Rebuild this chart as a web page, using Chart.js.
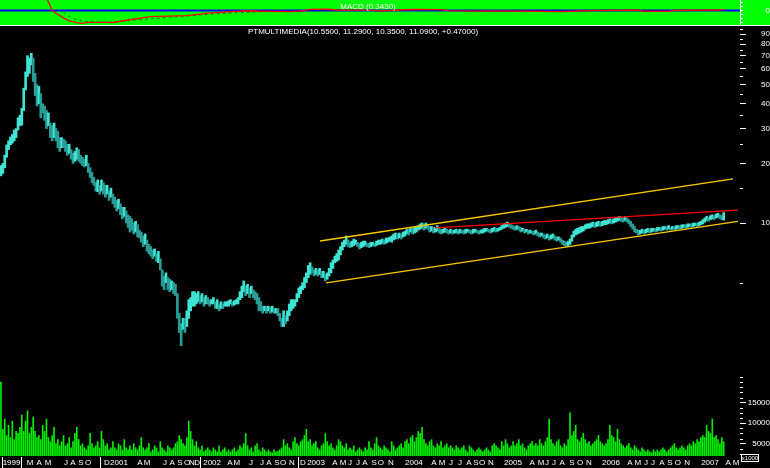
<!DOCTYPE html>
<html lang="en">
<head>
<meta charset="utf-8">
<title>PTMULTIMEDIA</title>
<script src="https://cdn.jsdelivr.net/npm/chart.js@4.4.1/dist/chart.umd.min.js"></script>
<style>
  body { margin: 0; background: #000; width: 770px; height: 468px; overflow: hidden; position: relative; }
  canvas { position: absolute; left: 0; }
  #macdChart { top: 0; background: #00ff00; }
  #sep { position: absolute; left: 0; top: 25px; width: 770px; height: 1px; background: #fff; }
  #priceChart { top: 26px; }
  #volChart { top: 374px; }
</style>
</head>
<body>
<canvas id="macdChart" width="770" height="25"></canvas>
<div id="sep"></div>
<canvas id="priceChart" width="770" height="347"></canvas>
<canvas id="volChart" width="770" height="94"></canvas>
<script>
// week index scale, bar 0 = first week on the chart
const X_MIN = -0.5, X_MAX = 389.6;
const AXIS_W = 30;
const FONT = '"Liberation Sans", Arial, sans-serif';

const lastQuote = ['10.5500', '11.2900', '10.3500', '11.0900', '+0.47000'];
const macdTitle = 'MACD (0.3430)';

// weekly highs / lows
const highs = [
  19.5,20,22,24.8,26,27.2,28,29.5,30,34,
  35,38,48,58,70,68,72,68,57,50,
  49,45,40,39,37,36,32,31,32,30,
  29,27,27,26.5,26,25,25,23.5,22.5,23,
  24,23.5,22,21.5,21,22,20,19,18,17,
  16,16.5,15.5,16.5,16,15.5,15.5,14.5,15,14,
  13.5,13,13.2,12.5,12,12,11.5,11,10.8,10.5,
  10,10.2,9.8,9.2,9,8.6,8.8,8.2,7.8,7.6,
  7.3,7.4,7,7.2,6.6,5.8,5.4,5.6,5.3,5.2,
  5.1,5,4.9,4.4,3.5,3.1,3.3,3.3,3.6,4.1,
  4.2,4.5,4.5,4.4,4.5,4.3,4.4,4.2,4.3,4.2,
  4.1,4.1,4.2,4,4.1,3.9,4,3.9,4,4,
  4.05,4.1,4,4.05,4.1,4.2,4.5,4.8,5.1,4.8,
  4.9,4.7,4.8,4.6,4.5,4.4,4.2,4,3.8,3.8,
  3.8,3.8,3.75,3.8,3.7,3.7,3.7,3.5,3.3,3.6,
  3.4,3.6,3.9,4.1,4.1,4.1,4.4,4.7,4.8,5,
  5.3,5.6,6.1,6.3,6,5.8,5.9,5.8,5.9,5.7,
  5.7,5.5,5.6,5.9,6.3,6.5,6.8,7,7.3,7.6,
  8,8.2,8.6,8.2,8,8.1,8.3,8.2,8,7.9,
  8,8.1,8.1,7.9,7.9,8,8,7.9,8.1,8.2,
  8.2,8.3,8.2,8.4,8.4,8.5,8.6,8.8,8.9,8.8,
  8.9,8.8,9,9.1,9.3,9.3,9.5,9.4,9.5,9.6,
  9.7,9.9,10,9.8,10,9.8,9.6,9.6,9.5,9.5,
  9.7,9.4,9.3,9.3,9.4,9.3,9.2,9.3,9.2,9.2,
  9.3,9.2,9.3,9.2,9.2,9.3,9.3,9.2,9.2,9.3,
  9.3,9.2,9.1,9.2,9.3,9.4,9.4,9.3,9.3,9.4,
  9.5,9.4,9.4,9.5,9.7,9.9,10,10.1,9.9,9.8,
  9.7,9.6,9.7,9.6,9.5,9.4,9.3,9.3,9.2,9.2,
  9.1,9.1,9.2,9,8.9,8.9,8.8,8.7,8.8,8.6,
  8.7,8.8,8.6,8.5,8.5,8.4,8.2,8.1,8,8.1,
  8.3,8.7,9.1,9.3,9.4,9.5,9.6,9.6,9.8,9.9,
  9.9,10,10.1,10,10.1,10.2,10.1,10.2,10.3,10.3,
  10.4,10.5,10.4,10.5,10.6,10.7,10.8,10.7,10.6,10.8,
  10.6,10.4,10.2,9.9,9.6,9.3,9.2,9.2,9.3,9.2,
  9.3,9.4,9.3,9.4,9.4,9.4,9.5,9.5,9.5,9.6,
  9.6,9.6,9.7,9.5,9.6,9.6,9.7,9.7,9.7,9.8,
  9.8,9.8,9.9,9.9,9.9,10,10,10,10.1,10.2,
  10.4,10.6,10.8,10.7,10.9,11,10.9,11.1,11.2,11,
  10.9,11.29
];
const lows = [
  17.3,17.8,19,21.5,23.5,24.8,25.3,26,27,29.5,
  31,31.2,37,47,55,57,63,52,44,39,
  40,34,36,33,30,31,27,26,27,26,
  24,23,24,24,23,22,22.5,21,20,20.5,
  21,20.5,20,19.5,19.2,19.5,18,17,16,15.5,
  14.5,14.4,14,14.5,14,13.5,14,13,13.5,12.5,
  12,11.5,11.8,11,10.5,10.8,10,9.5,9,9.2,
  8.8,9,8.5,8.4,8,7.6,7.8,7.2,7,6.8,
  6.6,6.8,6.4,6.3,5.8,4.8,4.6,5,4.6,4.5,
  4.6,4.4,4.3,3.3,2.8,2.4,2.9,2.8,3,3.3,
  3.6,3.8,3.8,3.9,4,3.9,4,3.8,3.9,3.9,
  3.8,3.9,3.9,3.7,3.7,3.6,3.7,3.7,3.8,3.8,
  3.8,3.9,3.8,3.85,3.9,3.9,4.1,4.2,4.5,4.3,
  4.4,4.2,4.4,4.2,4.1,3.9,3.6,3.6,3.5,3.6,
  3.5,3.6,3.5,3.55,3.5,3.5,3.4,3.2,3,3,
  3.1,3.2,3.4,3.6,3.7,3.8,4,4.2,4.4,4.6,
  4.7,5,5.3,5.5,5.6,5.4,5.5,5.4,5.5,5.3,
  5.3,5.1,5.2,5.4,5.6,5.9,6.3,6.4,6.5,6.9,
  7.3,7.6,7.8,7.6,7.5,7.6,7.7,7.8,7.6,7.4,
  7.5,7.6,7.7,7.6,7.5,7.6,7.7,7.6,7.7,7.8,
  7.8,7.9,7.8,7.9,8,8.1,8,8.2,8.3,8.3,
  8.4,8.3,8.5,8.6,8.8,8.7,9,8.8,8.9,9,
  9.2,9.3,9.4,9.2,9.4,9.3,9,9.1,8.9,9,
  9.1,8.9,8.8,8.9,9,8.9,8.8,8.9,8.8,8.9,
  8.9,8.8,8.9,8.9,8.8,8.9,9,8.9,8.8,8.9,
  9,8.9,8.8,8.9,8.9,9,9.1,9,8.9,9,
  9.1,9,9.1,9.2,9.3,9.4,9.5,9.6,9.5,9.4,
  9.3,9.2,9.3,9.2,9,9.1,8.9,9,8.8,8.9,
  8.8,8.7,8.8,8.6,8.5,8.6,8.4,8.3,8.4,8.2,
  8.3,8.4,8.2,8.1,8.2,8,7.8,7.7,7.6,7.7,
  7.8,8.1,8.5,8.7,8.8,8.9,9,9.1,9.3,9.4,
  9.4,9.5,9.6,9.5,9.6,9.7,9.6,9.7,9.8,9.8,
  9.9,10,9.9,10,10.1,10.2,10.3,10.2,10.1,10.3,
  10.1,9.9,9.6,9.3,9,8.9,8.7,8.8,8.9,8.8,
  8.9,9,8.9,9,9.1,9,9.1,9.2,9.1,9.2,
  9.3,9.2,9.3,9.2,9.3,9.2,9.3,9.4,9.3,9.4,
  9.5,9.4,9.5,9.6,9.5,9.6,9.7,9.6,9.7,9.8,
  9.9,10.1,10.3,10.2,10.4,10.5,10.4,10.6,10.7,10.5,
  10.4,10.35
];
const volumes = [
  20000,8500,11000,7000,9500,6500,10500,6000,8000,7500,
  9000,12000,8000,10500,13000,7500,9000,11500,8000,6500,
  7000,6000,9500,8000,11000,6500,5500,7000,9000,5000,
  6000,4500,5500,7000,4500,5000,6500,4000,5500,7500,
  9000,6000,4500,5000,4000,3500,4500,7500,5000,4000,
  4500,5500,4000,8000,6000,4500,5000,3500,4000,5500,
  4000,3500,5000,4500,3500,6000,4000,3500,4500,3500,
  5000,4000,3500,4500,6500,4000,3500,4000,5000,3000,
  3500,4500,4000,3000,5500,4000,3500,3000,4500,4000,
  3500,4000,5000,5500,7000,6000,5000,4500,6500,10500,
  8000,6000,4500,5500,4000,3500,4500,3000,3500,4000,
  3500,3000,4000,3500,3000,4500,3000,3500,4000,3000,
  3500,3000,3500,4000,3000,3500,4500,4000,5000,7500,
  4500,3500,4000,3000,4500,5000,3500,3000,4000,3500,
  3000,3500,3000,2800,3500,3000,3200,3500,4000,6000,
  4500,5000,4000,3500,5500,6500,5000,4500,5500,6000,
  7000,8500,5500,6000,4500,5000,5500,4000,3500,4500,
  5000,7500,5500,4500,5000,4000,3500,4500,6000,5500,
  4500,4000,5000,3500,4000,3500,4500,3000,3500,4000,
  3500,3000,4000,3500,5500,4000,3500,5000,6500,4500,
  4000,3500,4500,4000,3500,3000,5500,4500,3500,4000,
  4500,5000,4000,5500,6000,5000,6500,7000,5500,6500,
  8000,7500,9000,6000,5000,4500,5500,6000,4500,4000,
  5000,4500,5500,4000,4500,5000,4000,4500,4000,3500,
  4500,4000,3500,4000,4500,3500,3000,4500,4000,3500,
  3000,3500,4000,3500,3000,3500,4000,3500,3000,4500,
  5000,4500,4000,3500,5500,4500,6000,5000,4000,4500,
  5500,4500,5000,6000,4500,5000,4000,3500,4500,5000,
  5500,4500,5000,4500,6000,5000,4500,5500,6500,11000,
  6000,5000,4500,5500,6000,4500,4000,5000,4500,6000,
  12500,7000,8000,9500,6000,5500,6500,7500,6000,5000,
  5500,4500,5000,5500,6000,7000,5500,5000,4500,5000,
  6000,9500,7000,6500,5500,8500,6000,5000,4500,4000,
  4500,5000,4000,3500,4500,4000,3500,3000,4000,3500,
  3000,3500,3000,2800,3500,3000,3500,3000,3500,4000,
  3500,3000,3500,4000,4500,5000,4000,3500,4000,4500,
  4000,3500,4500,5000,4500,5500,5000,6000,5500,6500,
  7000,6500,9500,8000,7500,11000,6500,7000,6000,5000,
  6500,5500
];

// MACD panel (line and dotted signal), by week
const macdWeeks  = [24,25,27,28,33,36,40,42,46,55,59,67,79,88,98,108,121,131,137,152,158,163,173,176,193,200,217,233,236,270,284,296,310,336,339,352,355,378,381];
const macdValues = [6,4.2,0,-0.8,-3.6,-5.0,-5.9,-6.2,-5.7,-5.7,-5.8,-4.6,-3.0,-2.7,-2.5,-1.4,-0.6,-0.15,-0.4,-0.6,-0.3,0.5,0.55,0.2,0.1,-0.2,0.45,0.4,-0.2,-0.3,-0.5,-0.6,-0.1,0.1,-0.5,-0.5,0,0.2,0.34];
const signalWeeks  = [33,34,37,40,43,50,60,75,95,115,140,200,381];
const signalValues = [-1.1,-1.7,-3.3,-4.6,-5.1,-5.6,-5.6,-4.3,-2.9,-1.5,-0.5,0,0.25];
const zeroWeeks  = [X_MIN, X_MAX];
const zeroValues = [0, 0];

// trend channel drawn on the price panel
const upperLineWeeks = [168.2, 385.9], upperLineValues = [8.11, 16.7];
const lowerLineWeeks = [171.4, 388.5], lowerLineValues = [4.98, 10.2];
const redLineWeeks   = [228.8, 388.5], redLineValues   = [9.44, 11.63];

// axis ticks
const priceTicks = [10, 20, 30, 40, 50, 60, 70, 80, 90];
const priceMinorTicks = [5, 15, 25, 35, 45, 55, 65, 75, 85, 95];
const volTicks = [5000, 10000, 15000];
const volMinorTicks = [2500, 3750, 6250, 7500, 8750, 11250, 12500, 13750, 16250, 17500, 18750, 20000, 21250];
const macdTicks = [-6, -4, -2, 0, 2, 4];

const dateLabels = ['1999','M','A','M','J','A','S','O','D','2001',
  'A','M','J','A','S','O','N','D','2002',
  'A','M','J','J','A','S','O','N','D','2003',
  'A','M','J','J','A','S','O','N','2004',
  'A','M','J','J','A','S','O','N','2005',
  'A','M','J','J','A','S','O','N','2006',
  'A','M','J','J','A','S','O','N','2007',
  'A','M'];
const dateWeeks = [5.6,15.3,20.1,24.8,34.3,38,42.2,45.9,55.9,62.2,
  73.3,77,86.5,90.2,94.4,98.1,100.7,103.4,111.3,
  120.7,124.4,131.8,137.6,141.3,145.5,148.7,153.4,159.2,166.1,
  176.1,180.3,184,188.2,191.9,196.7,200.3,205.6,217.7,
  228.3,232.5,237.2,242,246.7,250.4,253.6,258.3,269.9,
  280,284.7,287.8,291.5,295.8,301,305.3,310,321.6,
  331.6,335.8,340,343.7,348.5,352.7,356.9,361.7,373.8,
  383.3,387.5];
const dateSeparators = [0.6, 10.6, 52.3, 104.9, 156.6];

const UP = '#40e4d4', DOWN = '#2a9c96';

Chart.defaults.font.family = FONT;

function points(xs, ys) {
  return xs.map((x, i) => ({ x: x, y: ys[i] }));
}

// stop chart.js from shrinking the plot to make room for label overhang
function noPad(scale) {
  scale.paddingTop = 0; scale.paddingBottom = 0;
  scale.paddingLeft = 0; scale.paddingRight = 0;
}

function xAxisHidden() {
  return { type: 'linear', min: X_MIN, max: X_MAX, offset: false, display: false };
}

function rightAxis(tickValues, extra) {
  return Object.assign({
    position: 'right',
    afterFit(scale) { scale.width = AXIS_W; noPad(scale); },
    afterBuildTicks(scale) { scale.ticks = tickValues.map(v => ({ value: v })); },
    border: { display: false },
    grid: { drawOnChartArea: false, color: '#fff', tickColor: '#fff', tickLength: 6 },
    ticks: { color: '#fff', font: { size: 8 }, padding: 2, crossAlign: 'far', autoSkip: false,
      callback: v => String(v) }
  }, extra);
}

function drawMinorTicks(chart, values, len) {
  const s = chart.scales.y, ctx = chart.ctx, area = chart.chartArea;
  ctx.save();
  ctx.strokeStyle = '#fff';
  ctx.lineWidth = 1;
  ctx.beginPath();
  values.forEach(v => {
    const y = Math.round(s.getPixelForValue(v)) + 0.5;
    if (y < area.top || y > area.bottom) return;
    ctx.moveTo(s.left, y);
    ctx.lineTo(s.left + len, y);
  });
  ctx.stroke();
  ctx.restore();
}

const baseOptions = {
  responsive: false,
  animation: false,
  events: [],
  layout: { padding: 0 },
  plugins: { legend: { display: false }, tooltip: { enabled: false } }
};

// ---- MACD panel ----
new Chart(document.getElementById('macdChart'), {
  type: 'line',
  data: {
    datasets: [
      { data: points(macdWeeks, macdValues), borderColor: '#ff0000', borderWidth: 1.3, pointRadius: 0, order: 0 },
      { data: points(signalWeeks, signalValues), borderColor: '#1c4a1c', borderWidth: 1, borderDash: [2, 4], pointRadius: 0, order: 1 },
      { data: points(zeroWeeks, zeroValues), borderColor: '#0000ff', borderWidth: 2, pointRadius: 0, order: 2 }
    ]
  },
  options: Object.assign({}, baseOptions, {
    scales: {
      x: xAxisHidden(),
      y: rightAxis(macdTicks, {
        type: 'linear', min: -7, max: 5,
        border: { display: true, color: '#fff' },
        grid: { drawOnChartArea: false, color: '#fff', tickColor: '#fff', tickLength: 3 },
        ticks: { color: '#fff', font: { size: 8 }, padding: 6, crossAlign: 'far', autoSkip: false,
          callback: v => (v === 0 ? '0' : '') }
      })
    }
  }),
  plugins: [{
    id: 'macdTitle',
    afterDraw(chart) {
      const ctx = chart.ctx;
      ctx.save();
      ctx.fillStyle = '#fff';
      ctx.font = '8px ' + FONT;
      ctx.textAlign = 'center';
      ctx.textBaseline = 'middle';
      ctx.fillText(macdTitle, 368, 7);
      ctx.restore();
    }
  }]
});

// ---- price panel ----
const barColors = highs.map((h, i) => {
  if (i === 0) return UP;
  return (h + lows[i]) >= (highs[i - 1] + lows[i - 1]) ? UP : DOWN;
});

new Chart(document.getElementById('priceChart'), {
  type: 'bar',
  data: {
    datasets: [
      { type: 'bar', data: highs.map((h, i) => ({ x: i, y: [lows[i], h] })),
        backgroundColor: barColors, barThickness: 2, grouped: false, order: 3 },
      { type: 'line', data: points(upperLineWeeks, upperLineValues), borderColor: '#ffc800', borderWidth: 1.3, pointRadius: 0, order: 1 },
      { type: 'line', data: points(lowerLineWeeks, lowerLineValues), borderColor: '#ffc800', borderWidth: 1.3, pointRadius: 0, order: 1 },
      { type: 'line', data: points(redLineWeeks, redLineValues), borderColor: '#ff0000', borderWidth: 1.3, pointRadius: 0, order: 0 }
    ]
  },
  options: Object.assign({}, baseOptions, {
    scales: {
      x: xAxisHidden(),
      y: rightAxis(priceTicks, { type: 'logarithmic', min: 1.747, max: 98.9 })
    }
  }),
  plugins: [{
    id: 'priceExtras',
    afterDraw(chart) {
      drawMinorTicks(chart, priceMinorTicks, 3);
      const ctx = chart.ctx;
      ctx.save();
      ctx.fillStyle = '#fff';
      ctx.font = '8px ' + FONT;
      ctx.textAlign = 'center';
      ctx.textBaseline = 'middle';
      ctx.fillText('PTMULTIMEDIA(' + lastQuote.join(', ') + ')', 363, 6);
      ctx.restore();
    }
  }]
});

// ---- volume panel + date strip ----
new Chart(document.getElementById('volChart'), {
  type: 'bar',
  data: {
    datasets: [
      { data: volumes.map((v, i) => ({ x: i, y: v })), backgroundColor: '#00ee00', barThickness: 1, grouped: false }
    ]
  },
  options: Object.assign({}, baseOptions, {
    scales: {
      x: {
        type: 'linear', min: X_MIN, max: X_MAX, offset: false,
        afterBuildTicks(scale) { scale.ticks = dateWeeks.map(v => ({ value: v })); },
        afterFit(scale) { scale.height = 12; noPad(scale); },
        grid: { display: false, drawTicks: false },
        border: { display: false },
        ticks: { color: '#fff', font: { size: 8 }, autoSkip: false, maxRotation: 0, minRotation: 0, padding: 2,
          callback: (v, i) => dateLabels[i] }
      },
      y: rightAxis(volTicks, { min: 2000, max: 22000 })
    }
  }),
  plugins: [{
    id: 'volExtras',
    afterDraw(chart) {
      drawMinorTicks(chart, volMinorTicks, 3);
      const ctx = chart.ctx, area = chart.chartArea, xs = chart.scales.x;
      ctx.save();
      ctx.strokeStyle = '#fff';
      ctx.lineWidth = 1;
      ctx.beginPath();
      dateSeparators.forEach(w => {
        const x = Math.round(xs.getPixelForValue(w)) + 0.5;
        ctx.moveTo(x, area.bottom + 1);
        ctx.lineTo(x, chart.height);
      });
      ctx.stroke();
      // unit box
      ctx.strokeRect(741.5, 80.5, 17, 7);
      ctx.fillStyle = '#fff';
      ctx.font = '6px ' + FONT;
      ctx.textAlign = 'center';
      ctx.textBaseline = 'middle';
      ctx.fillText('x1000', 750, 84.5);
      ctx.restore();
    }
  }]
});
</script>
</body>
</html>
